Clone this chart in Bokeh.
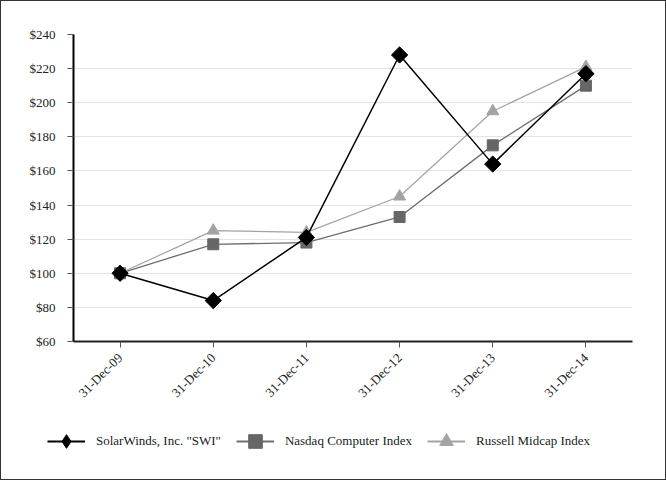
import math
from bokeh.plotting import figure
from bokeh.layouts import column
from bokeh.models import ColumnDataSource, Legend, LegendItem, NumeralTickFormatter, FixedTicker, Range1d
from bokeh.embed import file_html
from bokeh.resources import INLINE

dates = ["31-Dec-09", "31-Dec-10", "31-Dec-11", "31-Dec-12", "31-Dec-13", "31-Dec-14"]
swi = [100, 84, 121, 228, 164, 217]
nasdaq = [100, 117, 118, 133, 175, 210]
russell = [100, 125, 124, 145, 195, 221]
y_ticks = [60, 80, 100, 120, 140, 160, 180, 200, 220, 240]
names = ['SolarWinds, Inc. "SWI"', "Nasdaq Computer Index", "Russell Midcap Index"]

src = ColumnDataSource(dict(d=dates, swi=swi, nasdaq=nasdaq, russell=russell))

FONT = "'Liberation Serif', 'Times New Roman', serif"

STY = {
    "swi": dict(line="black", lw=1.5, marker="square", angle=math.pi / 4, size=11.5, fill="black",
                lmarker="diamond", llw=2),
    "nasdaq": dict(line="#6e6e6e", lw=1.3, marker="square", angle=0, size=11, fill="#666666",
                   lmarker="square", llw=2),
    "russell": dict(line="#a3a3a3", lw=1.2, marker="triangle", angle=0, size=12, fill="#a3a3a3",
                    lmarker="triangle", llw=2),
}

p = figure(width=664, height=420, x_range=dates, y_range=Range1d(60, 240),
           output_backend="svg", toolbar_location=None,
           min_border_left=72, min_border_right=33, min_border_top=33, min_border_bottom=80)
p.frame_align = False
p.outline_line_color = None
p.xgrid.grid_line_color = None
p.ygrid.grid_line_color = "#e3e3e3"
p.ygrid.grid_line_width = 1

p.yaxis.ticker = FixedTicker(ticks=y_ticks)
p.yaxis.formatter = NumeralTickFormatter(format="$0")
p.yaxis.minor_tick_line_color = None
p.yaxis.major_tick_in = 0
p.yaxis.major_tick_out = 6
p.yaxis.axis_line_color = "black"
p.yaxis.axis_line_width = 2
p.yaxis.major_tick_line_color = "#555"
p.yaxis.major_label_standoff = 12

p.xaxis.major_tick_in = 0
p.xaxis.major_tick_out = 6
p.xaxis.axis_line_color = "#222"
p.xaxis.axis_line_width = 2
p.xaxis.major_tick_line_color = "#555"
p.xaxis.major_label_orientation = math.pi / 4
p.xaxis.major_label_standoff = 8

for ax in (p.xaxis, p.yaxis):
    ax.major_label_text_font = FONT
    ax.major_label_text_font_size = "13px"
    ax.major_label_text_color = "#222"

for key in ["russell", "nasdaq", "swi"]:
    s = STY[key]
    p.line("d", key, source=src, line_color=s["line"], line_width=s["lw"])
    p.scatter("d", key, source=src, marker=s["marker"], angle=s["angle"], size=s["size"],
              fill_color=s["fill"], line_color=s["fill"])

# legend strip (its glyphs sit outside the visible range; only the legend shows)
q = figure(width=664, height=58, x_range=Range1d(0, 1), y_range=Range1d(0, 1),
           x_axis_type=None, y_axis_type=None,
           output_backend="svg", toolbar_location=None,
           min_border_left=0, min_border_right=0, min_border_top=0, min_border_bottom=0)
q.frame_align = False
q.grid.grid_line_color = None
q.outline_line_color = None
items = []
for key, name in zip(["swi", "nasdaq", "russell"], names):
    s = STY[key]
    e = ColumnDataSource(dict(x=[-10, -11], y=[-10, -11]))
    rl = q.line("x", "y", source=e, line_color=s["line"], line_width=s["llw"])
    rm = q.scatter("x", "y", source=e, marker=s["lmarker"], size=12,
                   fill_color=s["fill"], line_color=s["fill"])
    items.append(LegendItem(label=name, renderers=[rl, rm]))

legend = Legend(items=items, orientation="horizontal", location=(46, 21))
legend.border_line_color = None
legend.background_fill_alpha = 0
legend.padding = 0
legend.margin = 0
legend.label_text_font = FONT
legend.label_text_font_size = "13px"
legend.label_text_color = "#222"
legend.glyph_width = 38
legend.glyph_height = 34
legend.label_standoff = 11
legend.spacing = 15
q.add_layout(legend, "center")

layout = column(p, q, spacing=0)
layout.styles = {"border": "1px solid #333"}

open("out.html", "w").write(file_html(layout, INLINE))
